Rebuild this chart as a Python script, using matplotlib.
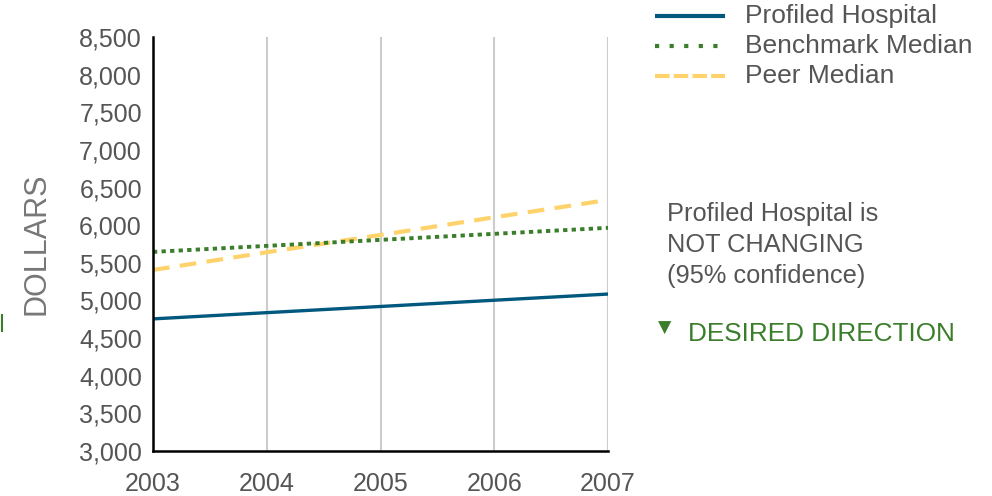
import matplotlib
matplotlib.use("Agg")
import matplotlib.pyplot as plt
from matplotlib.lines import Line2D

# data
years = [2003, 2004, 2005, 2006, 2007]
profiled = [4755, 4838, 4920, 5003, 5085]
benchmark = [5645, 5725, 5805, 5885, 5965]
peer = [5405, 5640, 5870, 6105, 6335]
y_ticks = list(range(3000, 8501, 500))

blue = "#00587f"
green = "#3a7d2a"
yellow = "#ffd36b"
grey_txt = "#555555"

plt.rcParams["font.family"] = ["Liberation Sans", "DejaVu Sans"]

fig = plt.figure(figsize=(9.92, 4.96), dpi=100)
ax = fig.add_axes([153 / 992, 1 - 451 / 496, 455 / 992, 414 / 496])

ax.plot(years, peer, color=yellow, lw=3.0, dashes=(4, 2.5), solid_capstyle="butt")
ax.plot(years, benchmark, color=green, lw=2.8, dashes=(1.1, 1.1))
ax.plot(years, profiled, color=blue, lw=2.4)

ax.set_xlim(2003, 2007)
ax.set_ylim(3000, 8500)
ax.set_xticks(years)
ax.set_xticklabels([str(y) for y in years])
ax.set_yticks(y_ticks)
ax.set_yticklabels([f"{v:,}" for v in y_ticks])
ax.tick_params(length=0, labelsize=18, labelcolor=grey_txt)
ax.tick_params(axis="y", pad=8)
ax.tick_params(axis="x", pad=15)
ax.grid(axis="x", color="#cccccc", lw=1.5)
ax.set_axisbelow(True)
for s in ["top", "right"]:
    ax.spines[s].set_visible(False)
for s in ["left", "bottom"]:
    ax.spines[s].set_color("black")
    ax.spines[s].set_linewidth(1.8)

ax.set_ylabel("DOLLARS", fontsize=22, color="#777777", labelpad=20)

# legend drawn by hand in figure coords
W, H = 992, 496
rows = [("Profiled Hospital", blue, "-", None, 16),
        ("Benchmark Median", green, ":", (1, 2.5), 46),
        ("Peer Median", yellow, "--", (3.5, 1), 76)]
for label, col, ls, dash, ypx in rows:
    yf = 1 - ypx / H
    ln = Line2D([655 / W, 725 / W], [yf, yf], transform=fig.transFigure,
                color=col, lw=3.0, solid_capstyle="butt", dash_capstyle="butt")
    if dash is not None:
        ln.set_dashes(dash)
    fig.add_artist(ln)
    fig.text(745 / W, yf, label, fontsize=19, color=grey_txt, va="center", ha="left")

fig.text(667 / W, 1 - 245 / H, "Profiled Hospital is\nNOT CHANGING\n(95% confidence)",
         fontsize=18.3, color=grey_txt, va="center", ha="left", linespacing=1.35)
fig.text(658 / W, 1 - 328 / H, "\u25BC", fontsize=12.5, color=green, va="center", ha="left",
         family=["DejaVu Sans"])
fig.text(688 / W, 1 - 334 / H, "DESIRED DIRECTION", fontsize=18.8, color=green,
         va="center", ha="left")

# small green tick at far left edge
fig.add_artist(Line2D([1.5 / W, 1.5 / W], [1 - 315 / H, 1 - 331 / H],
                      transform=fig.transFigure, color=green, lw=1.5))

fig.savefig("out.png", dpi=100)
